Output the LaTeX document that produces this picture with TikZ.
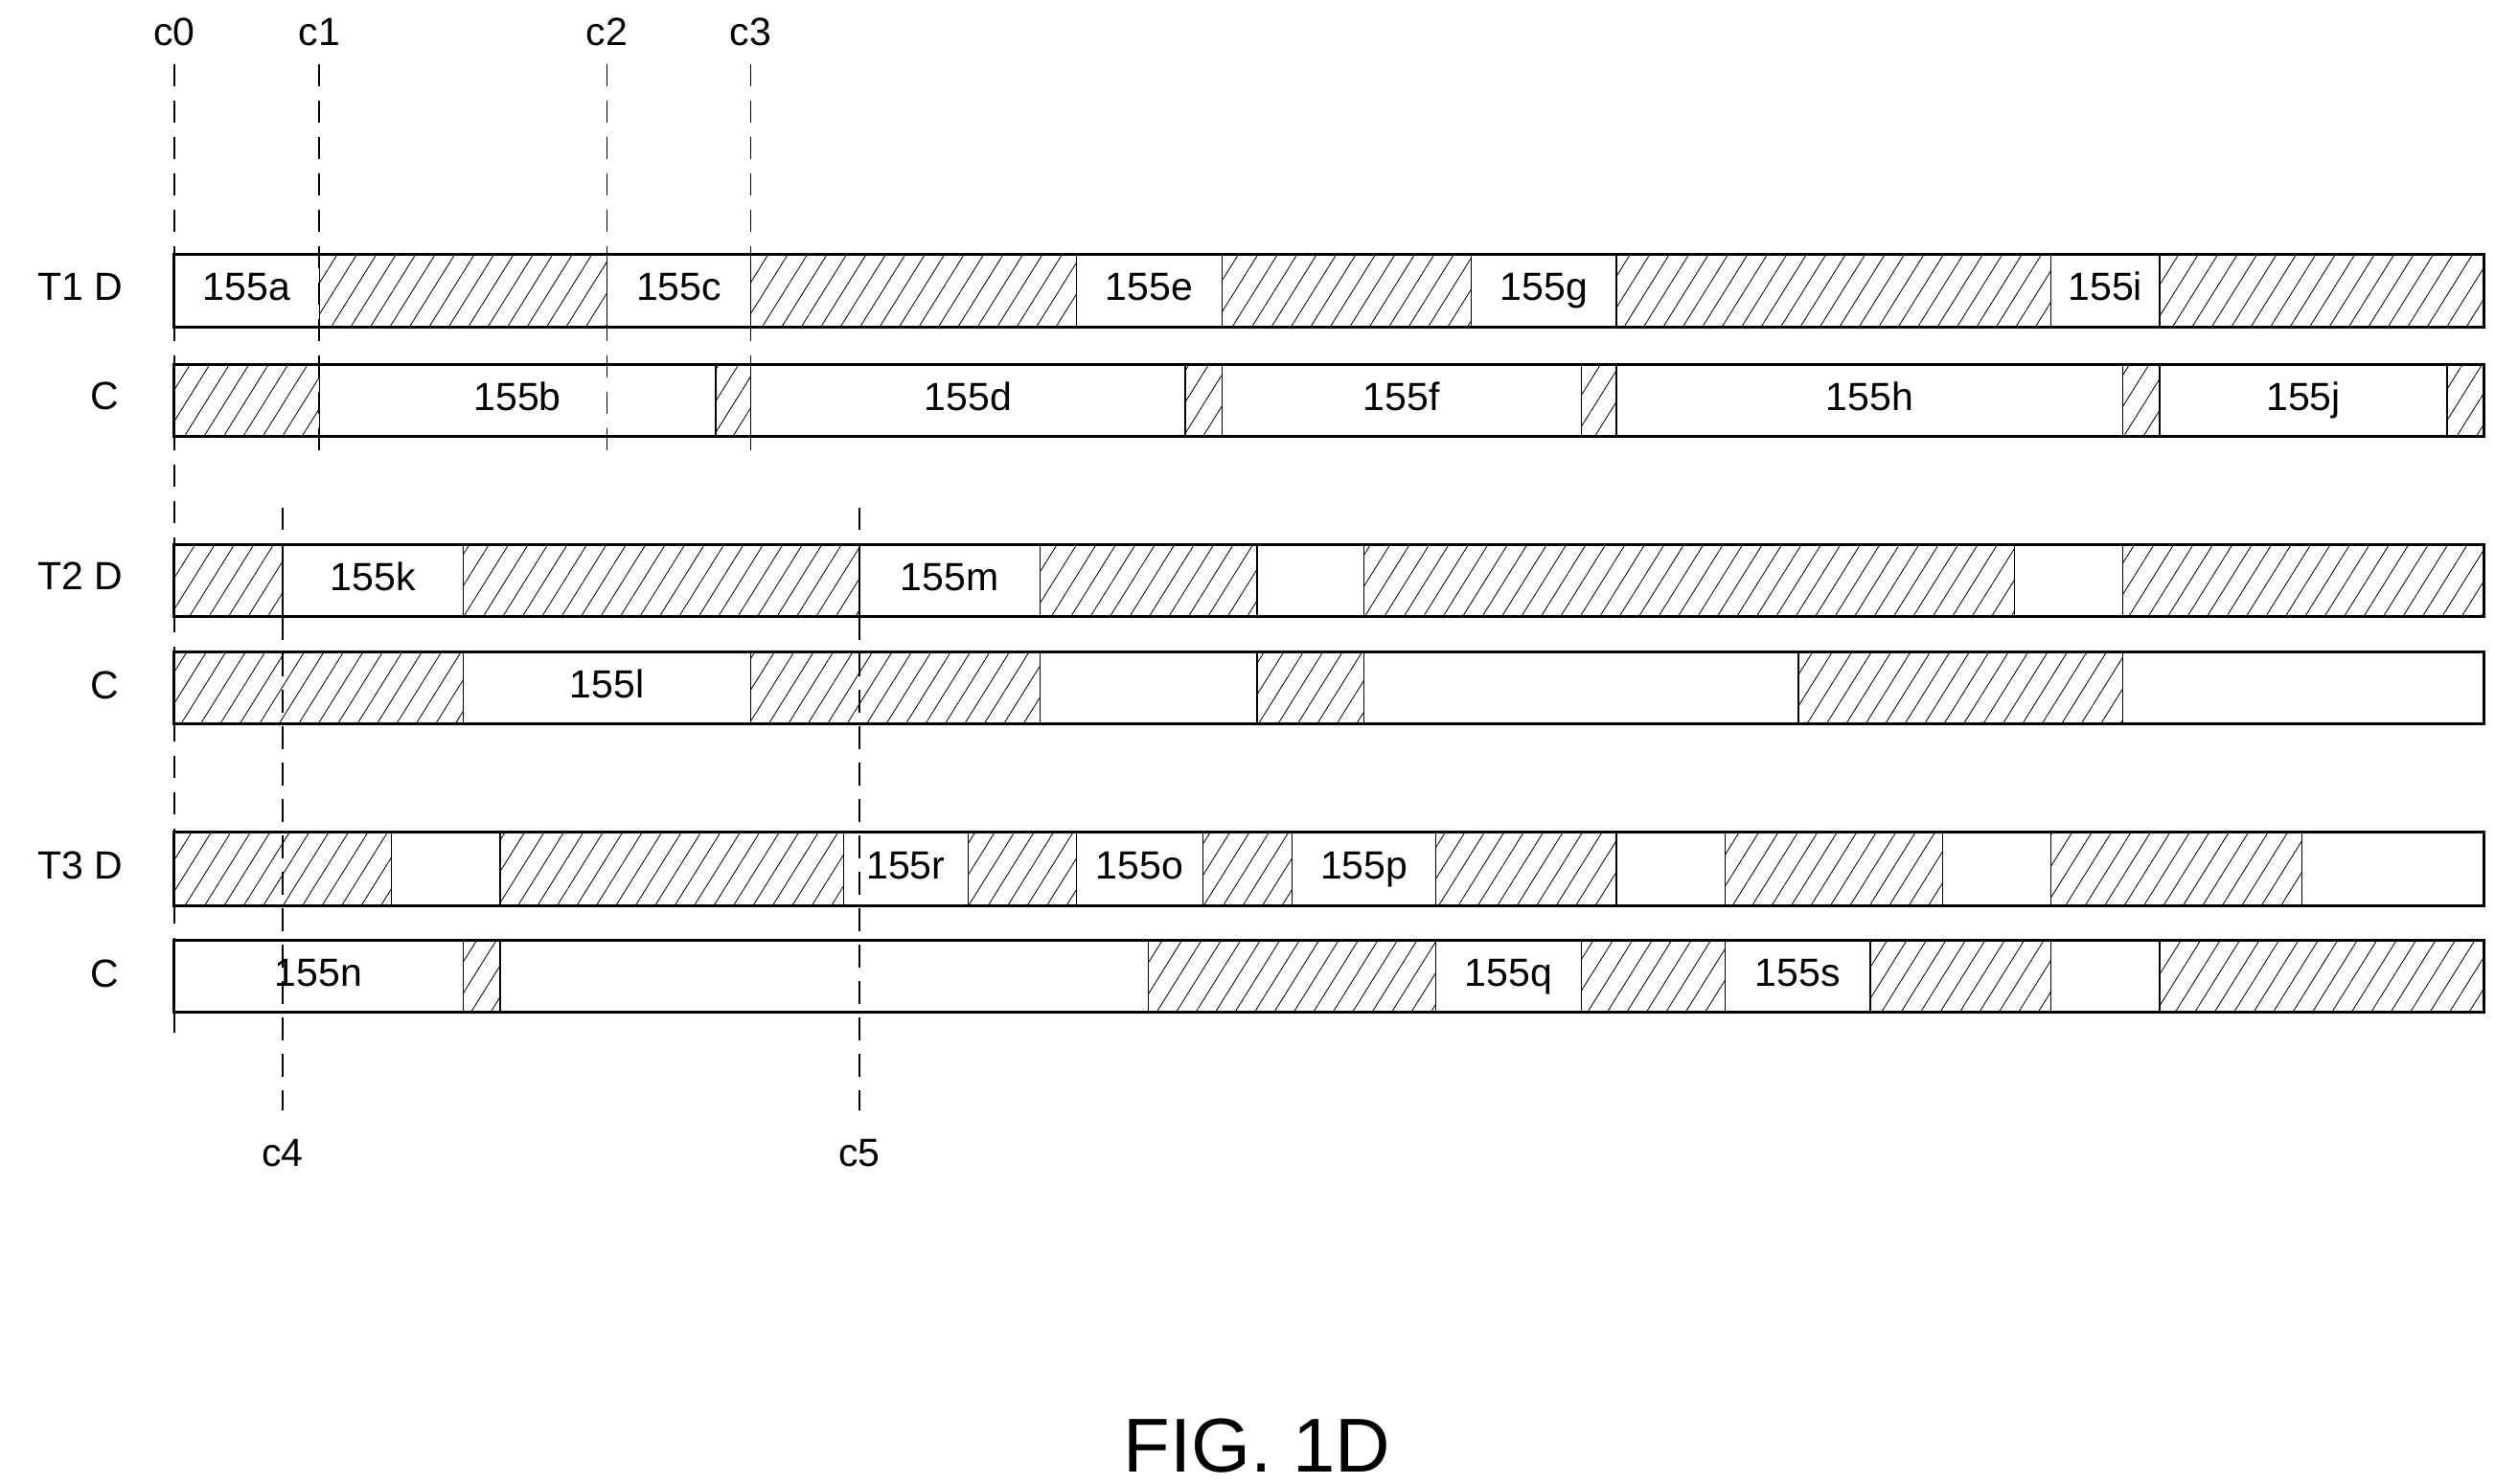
\documentclass[tikz,border=0pt]{standalone}
\usepackage{fontspec}
\setmainfont{Liberation Sans}
\usetikzlibrary{patterns.meta,positioning}

\tikzset{
  seg/.style={draw=black, line width=0.6pt},
  hatch/.style={pattern={Lines[angle=58,distance=2.6mm,line width=0.35pt]}},
  free/.style={fill=white},
  frame/.style={draw=black, line width=1.3pt},
  lbl/.style={font=\fontsize{17.5}{20}\selectfont, inner sep=0pt, text height=12.5pt, text depth=3.5pt},
  tick/.style={draw=black, line width=0.8pt, dash pattern=on 3.5mm off 2.2mm}
}

% one bar: #1 top y, #2 bottom y, #3 list of start/end/style/text
\newcommand{\slotrow}[3]{%
  \foreach \xa/\xb/\kind/\txt in {#3}{
    \path[seg,\kind] (\xa,#1) rectangle (\xb,#2);
    \node[lbl] at ({(\xa+\xb)/2},{(#1+#2)/2}) {\txt};
  }
  \draw[frame] (109,#1) rectangle (1555,#2);
}

\begin{document}
\begin{tikzpicture}[x=0.25mm,y=-0.25mm]
  \useasboundingbox (0,0) rectangle (1562,929);

  % row names
  \node[lbl, anchor=east] (t1d) at (77,182) {T1 D};
  \node[lbl, anchor=east] (t1c) at (75,250) {C};
  \node[lbl, anchor=east] (t2d) at (77,363) {T2 D};
  \node[lbl, anchor=east] (t2c) at (75,431) {C};
  \node[lbl, anchor=east] (t3d) at (77,544) {T3 D};
  \node[lbl, anchor=east] (t3c) at (75,612) {C};

  % T1
  \slotrow{159}{205}{109/200/free/155a, 200/380/hatch/, 380/470/free/155c, 470/674/hatch/,
    674/765/free/155e, 765/921/hatch/, 921/1012/free/155g, 1012/1284/hatch/,
    1284/1352/free/155i, 1352/1555/hatch/}
  \slotrow{228}{273}{109/200/hatch/, 200/448/free/155b, 448/470/hatch/, 470/742/free/155d,
    742/765/hatch/, 765/990/free/155f, 990/1012/hatch/, 1012/1329/free/155h,
    1329/1352/hatch/, 1352/1532/free/155j, 1532/1555/hatch/}

  % T2
  \slotrow{341}{386}{109/177/hatch/, 177/290/free/155k, 290/538/hatch/, 538/651/free/155m,
    651/787/hatch/, 787/854/free/, 854/1261/hatch/, 1261/1329/free/, 1329/1555/hatch/}
  \slotrow{408}{453}{109/290/hatch/, 290/470/free/155l, 470/651/hatch/, 651/787/free/,
    787/854/hatch/, 854/1126/free/, 1126/1329/hatch/, 1329/1555/free/}

  % T3
  \slotrow{521}{567}{109/245/hatch/, 245/313/free/, 313/528/hatch/, 528/606/free/155r,
    606/674/hatch/, 674/753/free/155o, 753/809/hatch/, 809/899/free/155p,
    899/1012/hatch/, 1012/1080/free/, 1080/1216/hatch/, 1216/1284/free/,
    1284/1441/hatch/, 1441/1555/free/}
  \slotrow{589}{634}{109/290/free/155n, 290/313/hatch/, 313/719/free/, 719/899/hatch/,
    899/990/free/155q, 990/1080/hatch/, 1080/1171/free/155s, 1171/1284/hatch/,
    1284/1352/free/, 1352/1555/hatch/}

  % time marks
  \foreach \nm/\xx in {c0/109, c1/200, c2/380, c3/470}{
    \node[lbl] (\nm) at (\xx,22) {\nm};
    \coordinate (\nm top) at (\xx,40);
  }
  \foreach \nm/\xx in {c4/177, c5/538}{
    \node[lbl] (\nm) at (\xx,724) {\nm};
    \coordinate (\nm top) at (\xx,318);
    \coordinate (\nm end) at (\xx,695);
  }
  \coordinate (c0end) at (109,650);
  \foreach \nm/\xx in {c1/200, c2/380, c3/470}
    \coordinate (\nm end) at (\xx,288);
  \foreach \nm in {c0,c1,c2,c3,c4,c5}
    \draw[tick] (\nm top) -- (\nm end);

  \node[font=\fontsize{34}{40}\selectfont, inner sep=0pt] (fig) at (787,905) {FIG. 1D};
\end{tikzpicture}
\end{document}
